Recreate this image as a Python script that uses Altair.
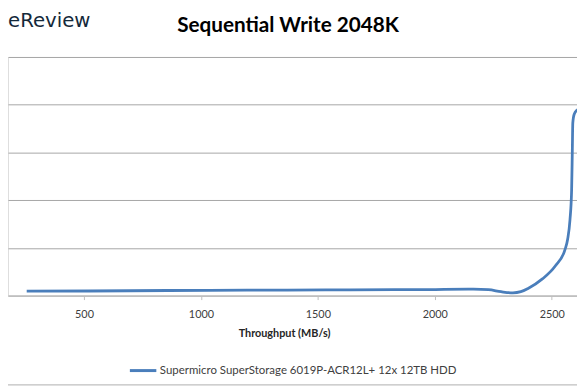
import altair as alt
import pandas as pd

# ---- data ----
throughput = [255, 521, 858, 1196, 1533, 1828, 1997, 2165, 2229, 2283, 2334, 2368,
              2397, 2460, 2515, 2557, 2568, 2578, 2585, 2588, 2590, 2596, 2608, 2637]
latency = [1.86, 1.94, 2.15, 2.27, 2.40, 2.48, 2.56, 2.69, 2.48, 1.65, 1.16, 1.65,
           2.9, 7.0, 12.4, 19.4, 23.6, 31.8, 44.2, 60.7, 72.3, 76.0, 77.7, 78.9]
series_name = "Supermicro SuperStorage 6019P-ACR12L+ 12x 12TB HDD"
x_ticks = [500, 1000, 1500, 2000, 2500]
y_grid = [0, 20, 40, 60, 80, 100]
chart_title = "Sequential Write 2048K"
logo_text = "eReview"
x_title = "Throughput (MB/s)"

df = pd.DataFrame({
    "throughput": throughput,
    "latency": latency,
    "series": [series_name] * len(throughput),
    "order": list(range(len(throughput))),
})

W, H = 577, 242
FONT = "Lato"

line = alt.Chart(df).mark_line(clip=True, strokeWidth=2.8, interpolate="monotone").encode(
    x=alt.X("throughput:Q",
            scale=alt.Scale(domain=[175, 2608], nice=False, zero=False),
            axis=alt.Axis(values=x_ticks, format="d", title=x_title, grid=False,
                          labelFont=FONT, labelFontSize=11, labelColor="#404040",
                          labelPadding=9, labelFlush=False, labelOverlap=False,
                          tickSize=4, tickColor="#bfbfbf",
                          domainColor="#bfbfbf", domainWidth=1.5,
                          titleFont=FONT, titleFontSize=11, titleFontWeight="bold",
                          titleColor="#262626", titleX=280, titleY=41,
                          titleBaseline="alphabetic", titleAlign="center")),
    y=alt.Y("latency:Q",
            scale=alt.Scale(domain=[0, 100], nice=False),
            axis=alt.Axis(values=y_grid, labels=False, ticks=False, domain=False,
                          title=None, grid=True, gridColor="#a6a6a6", gridWidth=1)),
    color=alt.Color("series:N", scale=alt.Scale(range=["#4a7ebb"]),
                    legend=alt.Legend(orient="none", legendX=122, legendY=303,
                                      title=None, symbolType="stroke",
                                      symbolSize=720, symbolStrokeWidth=3,
                                      labelFont=FONT, labelFontSize=11.6,
                                      labelColor="#404040", labelOffset=2,
                                      labelLimit=0)),
    order="order:Q",
)

title_df = pd.DataFrame({"t": [chart_title]})
title_mark = alt.Chart(title_df).mark_text(
    font=FONT, fontSize=21, fontWeight="bold", color="#000000",
    align="center", baseline="alphabetic"
).encode(text="t:N", x=alt.value(284), y=alt.value(-25))

logo_df = pd.DataFrame({"t": [logo_text]})
logo_mark = alt.Chart(logo_df).mark_text(
    font="DejaVu Sans", fontSize=20, color="#14293a",
    align="left", baseline="alphabetic"
).encode(text="t:N", x=alt.value(0), y=alt.value(-30))

border_df = pd.DataFrame({"k": [0]})
border = alt.Chart(border_df).mark_rule(color="#bfbfbf", strokeWidth=1.5).encode(
    x=alt.value(0), x2=alt.value(W), y=alt.value(332.5)
)

chart = alt.layer(line, title_mark, logo_mark, border).properties(
    width=W, height=H,
    autosize=alt.AutoSizeParams(type="none"),
    padding={"left": 0, "right": 0, "top": 47, "bottom": 92},
).configure_view(stroke=None).configure(background="white")

chart.save("out.html", embed_options={"renderer": "svg", "actions": False})
